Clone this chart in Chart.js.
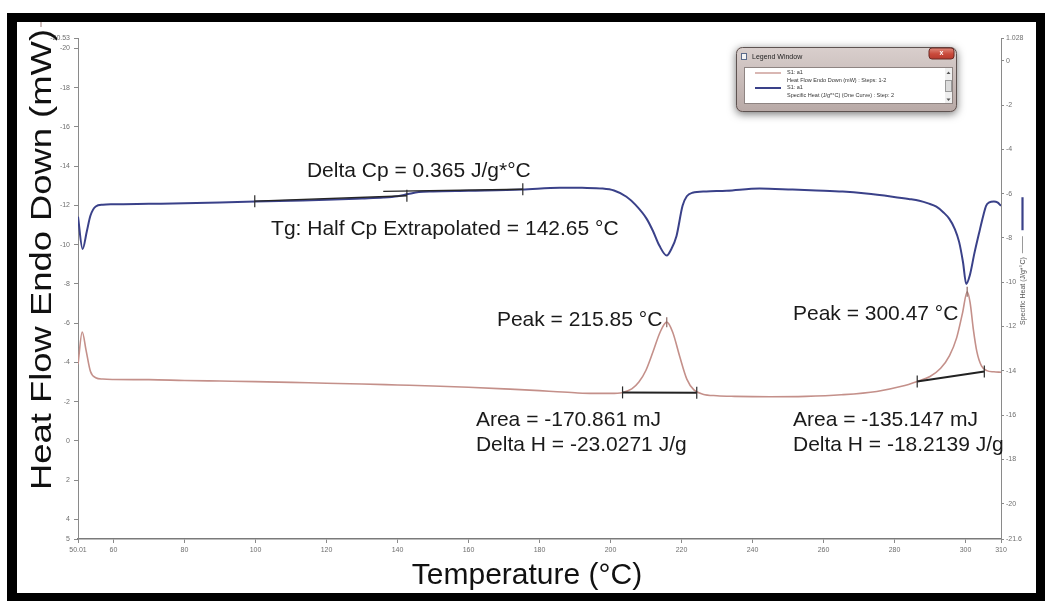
<!DOCTYPE html>
<html>
<head>
<meta charset="utf-8">
<script src="https://cdn.jsdelivr.net/npm/chart.js@4.4.0/dist/chart.umd.min.js"></script>
<style>
  html, body { margin: 0; padding: 0; background: #fff; }
  #wrap { position: relative; width: 1045px; height: 601px; overflow: hidden; background: #fff; }
  #dsc { position: absolute; left: 0; top: 0; }
  #frame {
    position: absolute; left: 7px; top: 13px; width: 1038px; height: 589px;
    box-sizing: border-box; border-style: solid; border-color: #000;
    border-width: 9px 9px 9px 10px; pointer-events: none;
  }
</style>
</head>
<body>
<div id="wrap">
  <canvas id="dsc" width="1045" height="601"></canvas>
  <div id="frame"></div>
</div>
<script>
// DSC run: heat flow (endo down) and specific heat versus temperature

// Heat flow curve, mW (left axis, endo down)
const heatFlowTemps = [50.01, 51.2, 52.3, 53.5, 55.0, 57.0, 60, 70, 80, 90, 100, 110, 120, 130, 140, 150,
  160, 170, 180, 185, 190, 195, 200, 203.4, 206, 208, 210, 212, 214, 215.85, 217.5, 219.5, 221.5,
  223.5, 226, 230, 235, 245, 255, 265, 275, 282, 286.4, 290, 293, 295.5, 297.5, 299.2, 300.47,
  301.3, 302.2, 303.2, 304.5, 306, 308, 310];
const heatFlowValues = [-3.90, -5.55, -4.60, -3.55, -3.22, -3.15, -3.13, -3.12, -3.08, -3.05, -3.02,
  -2.98, -2.94, -2.90, -2.85, -2.80, -2.73, -2.65, -2.56, -2.50, -2.45, -2.42, -2.42, -2.47, -2.65,
  -3.00, -3.60, -4.55, -5.55, -6.05, -5.55, -4.30, -3.15, -2.60, -2.38, -2.30, -2.27, -2.25, -2.27,
  -2.35, -2.52, -2.78, -3.03, -3.28, -3.70, -4.35, -5.25, -6.55, -7.60, -7.05, -5.70, -4.55, -3.82,
  -3.58, -3.52, -3.50];

// Specific heat curve, J/g*°C (right axis)
const cpTemps = [50.01, 51.3, 52.5, 53.5, 55.0, 57.0, 60, 70, 80, 90, 100, 110, 120, 130, 136, 140,
  143, 146, 150, 160, 175, 185.7, 192, 197.8, 201, 204.5, 207, 210.2, 212, 213.8, 215.85, 217,
  218.6, 220.3, 221.5, 223.1, 227, 232.7, 242, 251.3, 258, 265.4, 272, 279.4, 284, 287.0, 289.5,
  291.8, 293.8, 295.4, 297, 298.2, 299.3, 300.2, 301.2, 302.5, 303.9, 305, 305.8, 306.7, 308, 309, 310];
const cpValues = [-7.04, -8.50, -7.70, -7.00, -6.58, -6.50, -6.48, -6.46, -6.44, -6.40, -6.36, -6.32,
  -6.28, -6.22, -6.18, -6.12, -6.02, -5.93, -5.90, -5.87, -5.82, -5.73, -5.74, -5.77, -5.86, -6.14,
  -6.50, -7.14, -7.70, -8.36, -8.80, -8.55, -7.91, -6.55, -6.12, -5.96, -5.90, -5.87, -5.77, -5.82,
  -5.86, -5.91, -6.00, -6.14, -6.24, -6.32, -6.44, -6.59, -6.85, -7.13, -7.60, -8.18, -9.10, -10.08,
  -9.70, -8.70, -7.73, -7.00, -6.55, -6.40, -6.36, -6.40, -6.55];

// Axis ticks
const tempTicks = [50.01, 60, 80, 100, 120, 140, 160, 180, 200, 220, 240, 260, 280, 300, 310];
const tempTickLabels = ['50.01', '60', '80', '100', '120', '140', '160', '180', '200', '220', '240', '260', '280', '300', '310'];
const heatFlowTicks = [-20.53, -20, -18, -16, -14, -12, -10, -8, -6, -4, -2, 0, 2, 4, 5];
const heatFlowTickLabels = ['-20.53', '-20', '-18', '-16', '-14', '-12', '-10', '-8', '-6', '-4', '-2', '0', '2', '4', '5'];
const cpTicks = [1.028, 0, -2, -4, -6, -8, -10, -12, -14, -16, -18, -20, -21.6];
const cpTickLabels = ['1.028', '0', '-2', '-4', '-6', '-8', '-10', '-12', '-14', '-16', '-18', '-20', '-21.6'];

// Glass transition: tangent lines on the specific heat curve
const tgHalfCp = 142.65;
const deltaCp = 0.365;
const tgLowerTemps = [99.8, tgHalfCp];
const tgLowerValues = [-6.34, -6.10];
const tgUpperTemps = [136.0, 175.3];
const tgUpperValues = [-5.90, -5.80];

// Melting peaks on the heat flow curve with their integration baselines
const peakTemps = [215.85, 300.47];
const peakValues = [-6.05, -7.60];
const peakAreas = [-170.861, -135.147];
const peakEnthalpies = [-23.0271, -18.2139];
const peak1BaseTemps = [203.4, 224.3];
const peak1BaseValues = [-2.47, -2.45];
const peak2BaseTemps = [286.4, 305.3];
const peak2BaseValues = [-3.03, -3.54];

// ---- styling ----
const FONT = '"Liberation Sans", Arial, Helvetica, sans-serif';
const HF_COLOR = '#c4908a';
const CP_COLOR = '#3a4189';
const AXIS_COLOR = '#8a8a8a';
const TICK_TEXT = '#6f6f6f';

// annotation text anchors: temperature (°C) and heat-flow axis value at the text baseline
const annotationLayout = [
  { text: `Delta Cp = ${deltaCp} J/g*°C`, t: 114.5, hf: -13.45 },
  { text: `Tg: Half Cp Extrapolated = ${tgHalfCp.toFixed(2)} °C`, t: 104.4, hf: -10.49 },
  { text: `Peak = ${peakTemps[0].toFixed(2)} °C`, t: 168.0, hf: -5.85 },
  { text: `Peak = ${peakTemps[1].toFixed(2)} °C`, t: 251.4, hf: -6.16 },
  { text: `Area = ${peakAreas[0]} mJ`, t: 162.1, hf: -0.76 },
  { text: `Delta H = ${peakEnthalpies[0]} J/g`, t: 162.1, hf: 0.52 },
  { text: `Area = ${peakAreas[1]} mJ`, t: 251.4, hf: -0.76 },
  { text: `Delta H = ${peakEnthalpies[1]} J/g`, t: 251.4, hf: 0.52 }
];

const xy = (xs, ys) => xs.map((x, i) => ({ x, y: ys[i] }));
const fixedTicks = (values) => (scale) => { scale.ticks = values.map(v => ({ value: v })); };

function drawLegendWindow(ctx) {
  const L = 736, T = 47, R = 957, B = 112;
  ctx.save();
  ctx.shadowColor = 'rgba(0,0,0,0.55)';
  ctx.shadowBlur = 9;
  ctx.shadowOffsetY = 2;
  ctx.fillStyle = '#c6b8b5';
  ctx.beginPath(); ctx.roundRect(L, T, R - L, B - T, 6); ctx.fill();
  ctx.restore();

  ctx.save();
  const g = ctx.createLinearGradient(0, T, 0, B);
  g.addColorStop(0, '#d9cfcd');
  g.addColorStop(1, '#b8a9a6');
  ctx.fillStyle = g;
  ctx.beginPath(); ctx.roundRect(L, T, R - L, B - T, 6); ctx.fill();
  ctx.strokeStyle = '#5e5351'; ctx.lineWidth = 1;
  ctx.beginPath(); ctx.roundRect(L + 0.5, T + 0.5, R - L - 1, B - T - 1, 6); ctx.stroke();

  // window icon and caption
  ctx.fillStyle = '#f4f4f4'; ctx.fillRect(741, 53, 6, 7);
  ctx.strokeStyle = '#5a6a8a'; ctx.strokeRect(741.5, 53.5, 5, 6);
  ctx.font = `7px ${FONT}`; ctx.fillStyle = '#222';
  ctx.textBaseline = 'middle'; ctx.textAlign = 'left';
  ctx.fillText('Legend Window', 752, 57);

  // close button
  const rg = ctx.createLinearGradient(0, 48, 0, 60);
  rg.addColorStop(0, '#e08a7c'); rg.addColorStop(0.5, '#c94a3b'); rg.addColorStop(1, '#b3372b');
  ctx.fillStyle = rg;
  ctx.beginPath(); ctx.roundRect(929, 48, 25, 11, 3); ctx.fill();
  ctx.strokeStyle = '#6b2a24'; ctx.stroke();
  ctx.fillStyle = '#fff'; ctx.font = `bold 7px ${FONT}`; ctx.textAlign = 'center';
  ctx.fillText('x', 941.5, 53.5);

  // list box
  ctx.fillStyle = '#fff'; ctx.fillRect(744, 67, 209, 37);
  ctx.strokeStyle = '#8e8482'; ctx.lineWidth = 1; ctx.strokeRect(744.5, 67.5, 208, 36);
  // scrollbar
  ctx.fillStyle = '#efefef'; ctx.fillRect(945, 68, 7, 35);
  ctx.fillStyle = '#dcdcdc'; ctx.fillRect(945.5, 80, 6, 12);
  ctx.strokeStyle = '#9a9a9a'; ctx.strokeRect(945.5, 80.5, 6, 11);
  ctx.fillStyle = '#555';
  ctx.beginPath(); ctx.moveTo(946.5, 74); ctx.lineTo(950.5, 74); ctx.lineTo(948.5, 71.5); ctx.fill();
  ctx.beginPath(); ctx.moveTo(946.5, 98.5); ctx.lineTo(950.5, 98.5); ctx.lineTo(948.5, 101); ctx.fill();

  // entries
  ctx.lineWidth = 1.3; ctx.strokeStyle = HF_COLOR;
  ctx.beginPath(); ctx.moveTo(755, 73); ctx.lineTo(781, 73); ctx.stroke();
  ctx.lineWidth = 2; ctx.strokeStyle = CP_COLOR;
  ctx.beginPath(); ctx.moveTo(755, 88); ctx.lineTo(781, 88); ctx.stroke();
  ctx.fillStyle = '#333'; ctx.font = `5.5px ${FONT}`; ctx.textAlign = 'left'; ctx.textBaseline = 'middle';
  ctx.fillText('S1: a1', 787, 72);
  ctx.fillText('Heat Flow Endo Down (mW) : Steps: 1-2', 787, 80);
  ctx.fillText('S1: a1', 787, 87.5);
  ctx.fillText('Specific Heat (J/g*°C) (One Curve) : Step: 2', 787, 95.5);
  ctx.restore();
}

const decorPlugin = {
  id: 'dscDecor',
  afterDraw(chart) {
    const ctx = chart.ctx;
    const x = chart.scales.x, yHF = chart.scales.yHF;
    const area = chart.chartArea;

    // analysis annotations
    ctx.save();
    ctx.font = `21px ${FONT}`;
    ctx.fillStyle = '#1a1a1a';
    ctx.textAlign = 'left';
    ctx.textBaseline = 'alphabetic';
    annotationLayout.forEach(a => {
      ctx.fillText(a.text, x.getPixelForValue(a.t), yHF.getPixelForValue(a.hf));
    });
    ctx.restore();

    // left axis title (tall, narrow lettering) with its line sample
    ctx.save();
    ctx.translate(area.left - 27, area.bottom - 49);
    ctx.rotate(-Math.PI / 2);
    ctx.font = `29px ${FONT}`;
    ctx.fillStyle = '#111';
    ctx.textAlign = 'left'; ctx.textBaseline = 'alphabetic';
    const leftTitle = 'Heat Flow Endo Down (mW)';
    const lw = ctx.measureText(leftTitle).width;
    const stretch = 461 / lw;
    ctx.scale(stretch, 1);
    ctx.fillText(leftTitle, 0, 0);
    ctx.strokeStyle = '#bfaaa7'; ctx.lineWidth = 1.5;
    ctx.beginPath(); ctx.moveTo(lw + 2 / stretch, -10); ctx.lineTo(lw + 12 / stretch, -10); ctx.stroke();
    ctx.restore();

    // bottom axis title
    ctx.save();
    ctx.font = `30px ${FONT}`;
    ctx.fillStyle = '#111';
    ctx.textAlign = 'center'; ctx.textBaseline = 'alphabetic';
    ctx.fillText('Temperature (°C)', 527, area.bottom + 45);
    ctx.restore();

    // right axis title with its line sample
    ctx.save();
    ctx.translate(area.right + 24, 325);
    ctx.rotate(-Math.PI / 2);
    ctx.font = `7px ${FONT}`;
    ctx.fillStyle = '#555';
    ctx.textAlign = 'left'; ctx.textBaseline = 'alphabetic';
    const rightTitle = 'Specific Heat (J/g*°C)';
    ctx.fillText(rightTitle, 0, 0);
    const rw = ctx.measureText(rightTitle).width;
    ctx.strokeStyle = '#9a9a9a'; ctx.lineWidth = 1;
    ctx.beginPath(); ctx.moveTo(rw + 4, -2.5); ctx.lineTo(rw + 21, -2.5); ctx.stroke();
    ctx.strokeStyle = CP_COLOR; ctx.lineWidth = 2.2;
    ctx.beginPath(); ctx.moveTo(rw + 27, -2.5); ctx.lineTo(rw + 60, -2.5); ctx.stroke();
    ctx.restore();

    drawLegendWindow(ctx);
  }
};

const tickFont = { family: FONT, size: 7 };
const markerLine = {
  pointStyle: 'line', pointRotation: 90, pointRadius: 6, pointHoverRadius: 6,
  pointBorderColor: '#2a2a2a', pointBorderWidth: 1.2
};

new Chart(document.getElementById('dsc'), {
  type: 'line',
  data: {
    datasets: [
      Object.assign({ label: 'Tg lower tangent', data: xy(tgLowerTemps, tgLowerValues), yAxisID: 'yCp',
        borderColor: '#262626', borderWidth: 1.4, order: 1 }, markerLine),
      Object.assign({ label: 'Tg upper tangent', data: xy(tgUpperTemps, tgUpperValues), yAxisID: 'yCp',
        borderColor: '#262626', borderWidth: 1.4, order: 1 }, markerLine, { pointRadius: [0, 6] }),
      Object.assign({ label: 'Peak 1 baseline', data: xy(peak1BaseTemps, peak1BaseValues), yAxisID: 'yHF',
        borderColor: '#222', borderWidth: 2, order: 1 }, markerLine),
      Object.assign({ label: 'Peak 2 baseline', data: xy(peak2BaseTemps, peak2BaseValues), yAxisID: 'yHF',
        borderColor: '#222', borderWidth: 2, order: 1 }, markerLine),
      Object.assign({ label: 'Peaks', data: xy(peakTemps, peakValues), yAxisID: 'yHF', showLine: false,
        order: 2 }, markerLine, { pointBorderColor: '#8a6661', pointRadius: 5 }),
      { label: 'Specific Heat (J/g*°C)', data: xy(cpTemps, cpValues), yAxisID: 'yCp',
        borderColor: CP_COLOR, borderWidth: 2, pointRadius: 0, cubicInterpolationMode: 'monotone', order: 3 },
      { label: 'Heat Flow Endo Down (mW)', data: xy(heatFlowTemps, heatFlowValues), yAxisID: 'yHF',
        borderColor: HF_COLOR, borderWidth: 1.6, pointRadius: 0, cubicInterpolationMode: 'monotone', order: 4 }
    ]
  },
  options: {
    responsive: false,
    animation: false,
    devicePixelRatio: 1,
    events: [],
    layout: { padding: { top: 38, left: 0, right: 0, bottom: 0 } },
    plugins: { legend: { display: false }, tooltip: { enabled: false }, title: { display: false } },
    scales: {
      x: {
        type: 'linear', position: 'bottom', min: 50.01, max: 310,
        afterBuildTicks: fixedTicks(tempTicks),
        afterFit: (s) => { s.height = 62; },
        ticks: { autoSkip: false, maxRotation: 0, font: tickFont, color: TICK_TEXT, padding: 3,
          callback: (v, i) => tempTickLabels[i] },
        grid: { drawOnChartArea: false, drawTicks: true, tickLength: 4, color: AXIS_COLOR },
        border: { display: true, color: '#7a7a7a', width: 1.5 }
      },
      yHF: {
        type: 'linear', position: 'left', reverse: true, min: -20.53, max: 5,
        afterBuildTicks: fixedTicks(heatFlowTicks),
        afterFit: (s) => { s.width = 78; },
        ticks: { autoSkip: false, font: tickFont, color: TICK_TEXT, padding: 4,
          callback: (v, i) => heatFlowTickLabels[i] },
        grid: { drawOnChartArea: false, drawTicks: true, tickLength: 4, color: AXIS_COLOR },
        border: { display: true, color: AXIS_COLOR, width: 1 }
      },
      yCp: {
        type: 'linear', position: 'right', min: -21.6, max: 1.028,
        afterBuildTicks: fixedTicks(cpTicks),
        afterFit: (s) => { s.width = 44; },
        ticks: { autoSkip: false, font: tickFont, color: TICK_TEXT, padding: 2,
          callback: (v, i) => cpTickLabels[i] },
        grid: { drawOnChartArea: false, drawTicks: true, tickLength: 3, color: AXIS_COLOR },
        border: { display: true, color: AXIS_COLOR, width: 1 }
      }
    }
  },
  plugins: [decorPlugin]
});
</script>
</body>
</html>
